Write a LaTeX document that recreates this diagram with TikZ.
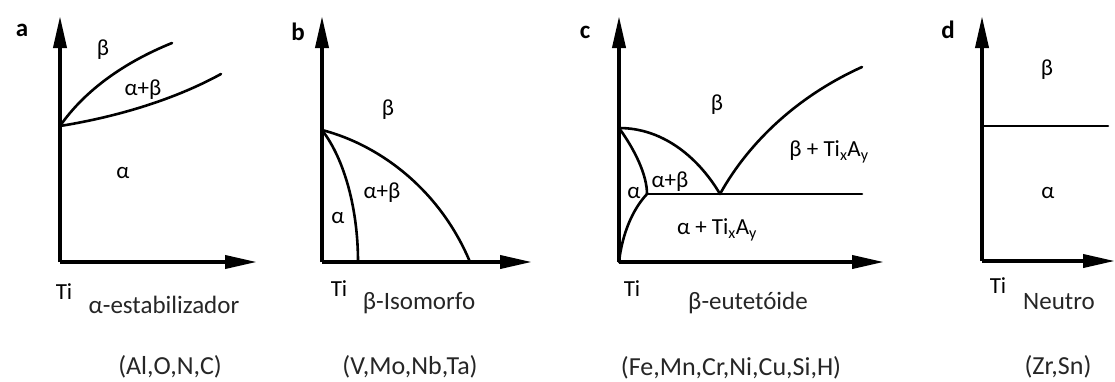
\documentclass[tikz,border=0pt]{standalone}
\usepackage{fontspec}
\setmainfont{Carlito}
\usetikzlibrary{arrows.meta}
\begin{document}
\begin{tikzpicture}[x=1pt,y=-1pt,
  axis/.style={line width=3.8pt,-{Triangle[length=32pt,width=13pt]}},
  phase/.style={line width=2.6pt,line cap=round},
  lbl/.style={font=\fontsize{23}{25}\selectfont,text=black,inner sep=0pt},
  sub/.style={font=\fontsize{25}{27}\selectfont,text=black!85,inner sep=0pt},
  elem/.style={font=\fontsize{26}{28}\selectfont,text=black!85,inner sep=0pt},
  panel/.style={font=\fontsize{25}{27}\selectfont\bfseries,inner sep=0pt}]
\useasboundingbox[fill=white] (0,0) rectangle (1115,381);
% ---------- panel a
\coordinate (ao) at (60,262); \coordinate (ay) at (60,16); \coordinate (ax) at (257,262);
\draw[axis] (ao) -- (ay);
\draw[axis] (ao) -- (ax);
\coordinate (at) at (60,126);
\draw[phase] (at) .. controls (85,90) and (125,62) .. (172,43);
\draw[phase] (at) .. controls (110,118) and (170,102) .. (221,74);
\node[panel] (la) at (22,30) {a};
\node[lbl] (ab) at (103,50) {β};
\node[lbl] (aab) at (143,90) {α+β};
\node[lbl] (aa) at (123,173) {α};
\node[lbl] (ati) at (64,292) {Ti};
\node[sub] (an) at (164,305) {α-estabilizador};
\node[elem] (ae) at (170,367) {(Al,O,N,C)};
% ---------- panel b
\coordinate (bo) at (322,262); \coordinate (by) at (322,16); \coordinate (bx) at (532,262);
\draw[axis] (bo) -- (by);
\draw[axis] (bo) -- (bx);
\coordinate (bt) at (322,130);
\draw[phase] (bt) .. controls (380,145) and (440,190) .. (470,262);
\draw[phase] (bt) .. controls (345,160) and (358,210) .. (358,262);
\node[panel] (lb) at (298,32) {b};
\node[lbl] (bb) at (388,110) {β};
\node[lbl] (bab) at (382,193) {α+β};
\node[lbl] (ba) at (338,218) {α};
\node[lbl] (bti) at (339,289) {Ti};
\node[sub] (bn) at (419,303) {β-Isomorfo};
\node[elem] (be) at (410,367) {(V,Mo,Nb,Ta)};
% ---------- panel c
\coordinate (co) at (619,262); \coordinate (cy) at (619,16); \coordinate (cx) at (884,262);
\draw[axis] (co) -- (cy);
\draw[axis] (co) -- (cx);
\coordinate (ct) at (619,128);
\coordinate (ce) at (720,194);
\coordinate (cm) at (647,194);
\coordinate (cr) at (862,194);
\draw[phase] (ct) .. controls (665,128) and (700,160) .. (ce);
\draw[phase] (ce) .. controls (750,140) and (800,95) .. (862,67);
\draw[phase] (cm) -- (cr);
\draw[phase] (ct) .. controls (635,150) and (647,175) .. (cm);
\draw[phase] (cm) .. controls (632,210) and (622,235) .. (co);
\node[panel] (lc) at (585,32) {c};
\node[lbl] (cb) at (717,105) {β};
\node[lbl] (cbt) at (829,152) {β + Ti\textsubscript{x}A\textsubscript{y}};
\node[lbl] (cab) at (670,182) {α+β};
\node[lbl] (ca) at (634,193) {α};
\node[lbl] (cat) at (717,230) {α + Ti\textsubscript{x}A\textsubscript{y}};
\node[lbl] (cti) at (632,289) {Ti};
\node[sub] (cn) at (748,303) {β-eutetóide};
\node[elem] (ce2) at (731,368) {(Fe,Mn,Cr,Ni,Cu,Si,H)};
% ---------- panel d
\coordinate (do) at (982,261); \coordinate (dy) at (982,16); \coordinate (dx) at (1115,261);
\draw[axis] (do) -- (dy);
\draw[axis] (do) -- (dx);
\coordinate (dt) at (982,126);
\coordinate (dr) at (1108,126);
\draw[phase] (dt) -- (dr);
\node[panel] (ld) at (948,30) {d};
\node[lbl] (db) at (1047,70) {β};
\node[lbl] (da) at (1048,193) {α};
\node[lbl] (dti) at (998,286) {Ti};
\node[sub] (dn) at (1059,302) {Neutro};
\node[elem] (de) at (1058,367) {(Zr,Sn)};
\end{tikzpicture}
\end{document}
